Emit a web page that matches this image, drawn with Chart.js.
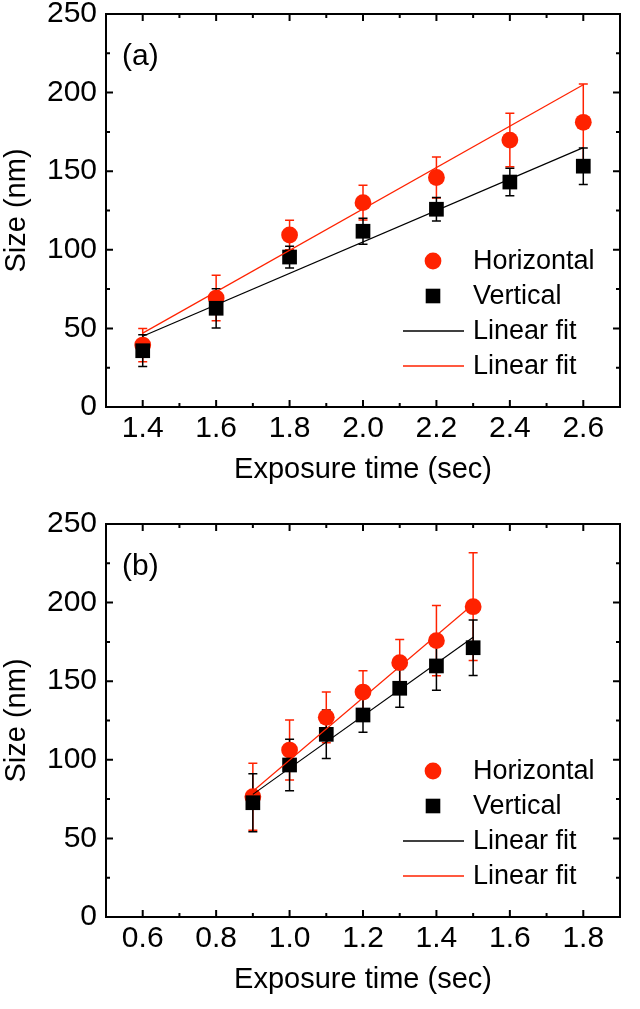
<!DOCTYPE html>
<html>
<head>
<meta charset="utf-8">
<script src="https://cdn.jsdelivr.net/npm/chart.js@4.4.1/dist/chart.umd.min.js"></script>
<style>
  html, body { margin: 0; padding: 0; background: #fff; }
  #wrap { position: relative; width: 640px; height: 1009px; }
  canvas { position: absolute; left: 0; }
</style>
</head>
<body>
<div id="wrap">
  <canvas id="chartA" width="640" height="505" style="top:0px"></canvas>
  <canvas id="chartB" width="640" height="499" style="top:510px"></canvas>
</div>
<script>
// ---------- Data: panel (a) ----------
const xA = [1.4, 1.6, 1.8, 2.0, 2.2, 2.4, 2.6];
const horizA = [39.4, 69.3, 109.4, 130, 146, 169.8, 181.1];
const horizAErr = [10.6, 14.5, 9.4, 11, 13, 17, 24.4];
const vertA = [35.8, 62.8, 95.4, 111.8, 125.8, 143.1, 153.2];
const vertAErr = [10.1, 12.5, 6.9, 8.2, 7.4, 8.7, 11.6];
const fitXA = [1.4, 2.6];
const fitVertA = [45, 165];
const fitHorizA = [47, 205];
const xTicksA = [1.4, 1.6, 1.8, 2.0, 2.2, 2.4, 2.6];

// ---------- Data: panel (b) ----------
const xB = [0.9, 1.0, 1.1, 1.2, 1.3, 1.4, 1.5];
const horizB = [76.5, 106.2, 127, 143.1, 161.8, 175.8, 197.4];
const horizBErr = [21.3, 19.1, 16.2, 13.5, 14.8, 22.3, 34.3];
const vertB = [72.7, 96.7, 116.2, 128.5, 145.5, 159.7, 171.3];
const vertBErr = [18.4, 16.4, 15.4, 11, 12, 15.4, 17.7];
const fitXB = [0.9, 1.5];
const fitVertB = [78, 178];
const fitHorizB = [80, 199];
const xTicksB = [0.6, 0.8, 1.0, 1.2, 1.4, 1.6, 1.8];

const yTicks = [0, 50, 100, 150, 200, 250];
const seriesLabels = ['Horizontal', 'Vertical', 'Linear fit', 'Linear fit'];

const RED = '#ff2200';
const FONT = '"Liberation Sans", Arial, Helvetica, sans-serif';

function pts(xs, ys) { return xs.map((x, i) => ({ x: x, y: ys[i] })); }

// Frame + inward mirrored ticks
const framePlugin = {
  id: 'frame',
  afterDraw(chart) {
    const { ctx, chartArea: { left, right, top, bottom }, scales: { x, y } } = chart;
    ctx.save();
    ctx.strokeStyle = '#000';
    ctx.lineWidth = 2;
    ctx.strokeRect(left, top, right - left, bottom - top);
    const majL = 7, minL = 4;
    function minorsOf(scale) {
      const maj = scale.ticks.map(t => t.value);
      const step = maj[1] - maj[0];
      const out = [];
      for (let v = maj[0] - step / 2; v <= scale.max + 1e-9; v += step) {
        if (v >= scale.min - 1e-9) out.push(v);
      }
      return out;
    }
    ctx.beginPath();
    x.ticks.forEach(t => {
      const px = x.getPixelForValue(t.value);
      ctx.moveTo(px, bottom); ctx.lineTo(px, bottom - majL);
      ctx.moveTo(px, top); ctx.lineTo(px, top + majL);
    });
    minorsOf(x).forEach(v => {
      const px = x.getPixelForValue(v);
      ctx.moveTo(px, bottom); ctx.lineTo(px, bottom - minL);
      ctx.moveTo(px, top); ctx.lineTo(px, top + minL);
    });
    y.ticks.forEach(t => {
      const py = y.getPixelForValue(t.value);
      ctx.moveTo(left, py); ctx.lineTo(left + majL, py);
      ctx.moveTo(right, py); ctx.lineTo(right - majL, py);
    });
    minorsOf(y).forEach(v => {
      const py = y.getPixelForValue(v);
      ctx.moveTo(left, py); ctx.lineTo(left + minL, py);
      ctx.moveTo(right, py); ctx.lineTo(right - minL, py);
    });
    ctx.stroke();
    ctx.restore();
  }
};

// Error bars (drawn beneath markers)
const errorPlugin = {
  id: 'errbars',
  beforeDatasetsDraw(chart) {
    const { ctx, scales: { x, y } } = chart;
    ctx.save();
    chart.data.datasets.forEach(ds => {
      if (!ds.errors) return;
      ctx.strokeStyle = ds.backgroundColor;
      ctx.lineWidth = 1.5;
      ds.data.forEach((p, i) => {
        const e = ds.errors[i];
        const px = x.getPixelForValue(p.x);
        const pt = y.getPixelForValue(p.y + e);
        const pb = y.getPixelForValue(p.y - e);
        ctx.beginPath();
        ctx.moveTo(px, pt); ctx.lineTo(px, pb);
        ctx.moveTo(px - 4.5, pt); ctx.lineTo(px + 4.5, pt);
        ctx.moveTo(px - 4.5, pb); ctx.lineTo(px + 4.5, pb);
        ctx.stroke();
      });
    });
    ctx.restore();
  }
};

// Legend inside plot area + panel letter
const legendPlugin = {
  id: 'inLegend',
  afterDatasetsDraw(chart, args, opts) {
    const { ctx, chartArea: { left, top } } = chart;
    ctx.save();
    ctx.fillStyle = '#000';
    ctx.font = '30px ' + FONT;
    ctx.textBaseline = 'alphabetic';
    ctx.textAlign = 'left';
    ctx.fillText(opts.letter, left + 16, top + 51);
    chart.data.datasets.forEach((ds, i) => {
      const cy = top + 247 + 35 * i;
      const mx = left + 327;
      if (ds.showLine) {
        ctx.strokeStyle = ds.borderColor;
        ctx.lineWidth = 1.5;
        ctx.beginPath();
        ctx.moveTo(left + 297, cy); ctx.lineTo(left + 358, cy);
        ctx.stroke();
      } else if (ds.pointStyle === 'rect') {
        ctx.fillStyle = ds.backgroundColor;
        ctx.fillRect(mx - 7.3, cy - 7.3, 14.6, 14.6);
      } else {
        ctx.fillStyle = ds.backgroundColor;
        ctx.beginPath();
        ctx.arc(mx, cy, 8.4, 0, Math.PI * 2);
        ctx.fill();
      }
      ctx.fillStyle = '#000';
      ctx.font = '27px ' + FONT;
      ctx.textBaseline = 'middle';
      ctx.fillText(ds.label, left + 367, cy + 1);
    });
    ctx.restore();
  }
};

function build(canvasId, cfg) {
  const H = document.getElementById(canvasId).height;
  return new Chart(document.getElementById(canvasId), {
    type: 'scatter',
    data: {
      datasets: [
        { label: seriesLabels[0], data: pts(cfg.x, cfg.horiz), errors: cfg.horizErr,
          pointStyle: 'circle', pointRadius: 8.4, pointHoverRadius: 8.4, borderWidth: 0,
          backgroundColor: RED, borderColor: RED, order: 4 },
        { label: seriesLabels[1], data: pts(cfg.x, cfg.vert), errors: cfg.vertErr,
          pointStyle: 'rect', pointRadius: 10.4, pointHoverRadius: 10.4, borderWidth: 0,
          backgroundColor: '#000', borderColor: '#000', order: 3 },
        { label: seriesLabels[2], data: pts(cfg.fitX, cfg.fitVert), showLine: true,
          pointRadius: 0, borderWidth: 1.2, borderColor: '#000', backgroundColor: '#000', order: 1 },
        { label: seriesLabels[3], data: pts(cfg.fitX, cfg.fitHoriz), showLine: true,
          pointRadius: 0, borderWidth: 1.2, borderColor: RED, backgroundColor: RED, order: 0 }
      ]
    },
    options: {
      responsive: false,
      animation: false,
      devicePixelRatio: 1,
      layout: { padding: { left: 0, right: 20, top: 14, bottom: 0 } },
      plugins: { legend: { display: false }, tooltip: { enabled: false },
                 inLegend: { letter: cfg.letter } },
      scales: {
        x: {
          type: 'linear', min: cfg.xmin, max: cfg.xmax,
          grid: { display: false, drawTicks: false }, border: { display: false },
          ticks: { color: '#000', font: { family: FONT, size: 30, lineHeight: 1 }, padding: 7,
                   maxRotation: 0, autoSkip: false, callback: v => Number(v).toFixed(1) },
          title: { display: true, text: 'Exposure time (sec)', color: '#000',
                   font: { family: FONT, size: 29 }, padding: { top: 0, bottom: cfg.titlePad } },
          afterBuildTicks: s => { s.ticks = cfg.xTicks.map(v => ({ value: v })); },
          afterFit: s => { s.height = H - 407; s.paddingLeft = 0; s.paddingRight = 0; }
        },
        y: {
          type: 'linear', min: 0, max: 250,
          grid: { display: false, drawTicks: false }, border: { display: false },
          ticks: { color: '#000', font: { family: FONT, size: 30, lineHeight: 1 }, padding: 9,
                   autoSkip: false, callback: v => String(v) },
          title: { display: true, text: 'Size (nm)', color: '#000',
                   font: { family: FONT, size: 29 }, padding: { top: 0, bottom: 0 } },
          afterBuildTicks: s => { s.ticks = yTicks.map(v => ({ value: v })); },
          afterFit: s => { s.width = 106; s.paddingTop = 0; s.paddingBottom = 0; }
        }
      }
    },
    plugins: [errorPlugin, legendPlugin, framePlugin]
  });
}

build('chartA', { x: xA, horiz: horizA, horizErr: horizAErr, vert: vertA, vertErr: vertAErr,
  fitX: fitXA, fitVert: fitVertA, fitHoriz: fitHorizA, xTicks: xTicksA,
  xmin: 1.3, xmax: 2.7, letter: '(a)', titlePad: 17.6 });
build('chartB', { x: xB, horiz: horizB, horizErr: horizBErr, vert: vertB, vertErr: vertBErr,
  fitX: fitXB, fitVert: fitVertB, fitHoriz: fitHorizB, xTicks: xTicksB,
  xmin: 0.5, xmax: 1.9, letter: '(b)', titlePad: 11.6 });
</script>
</body>
</html>
